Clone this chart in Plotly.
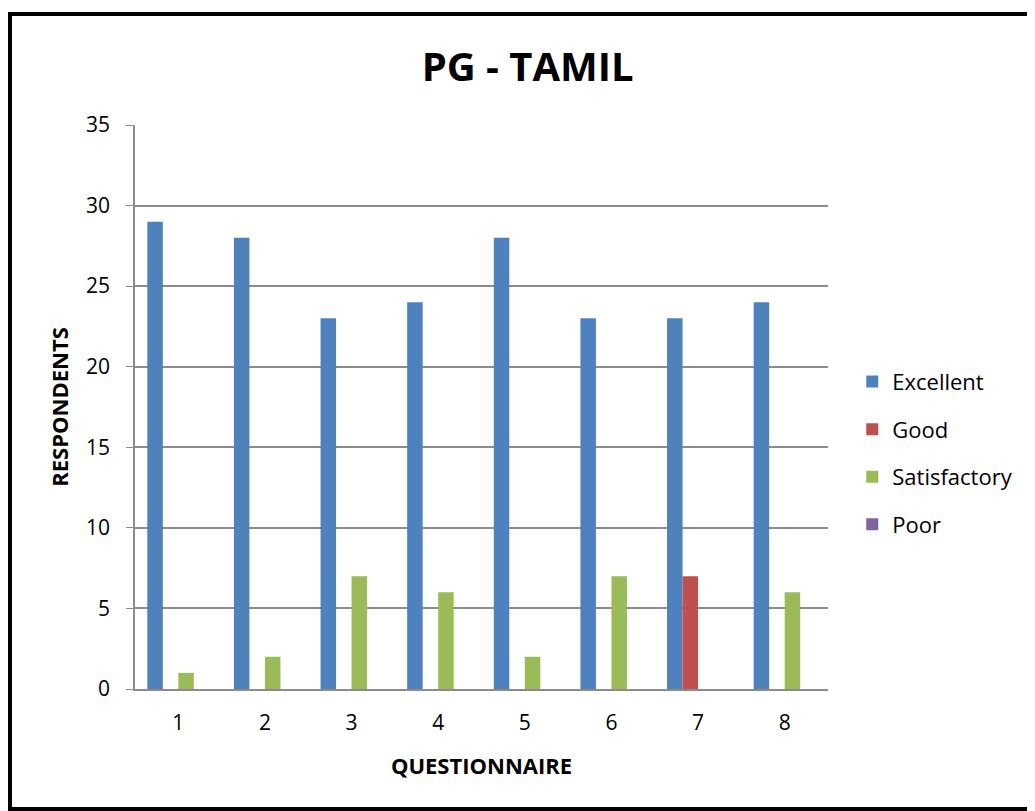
import plotly.graph_objects as go

questions = ["1", "2", "3", "4", "5", "6", "7", "8"]
excellent = [29, 28, 23, 24, 28, 23, 23, 24]
good = [0, 0, 0, 0, 0, 0, 7, 0]
satisfactory = [1, 2, 7, 6, 2, 7, 0, 6]
poor = [0, 0, 0, 0, 0, 0, 0, 0]

series = [
    ("Excellent", excellent, "#4F81BD"),
    ("Good", good, "#C0504D"),
    ("Satisfactory", satisfactory, "#9BBB59"),
    ("Poor", poor, "#8064A2"),
]

fig = go.Figure()
for name, vals, col in series:
    fig.add_trace(go.Bar(x=questions, y=vals, name=name, marker_color=col,
                         marker_line_width=0, legendgroup=name))

font = "Open Sans"
# page has an 8px body margin, so the figure is a bit smaller than the window
fig.update_layout(
    width=1027, height=803,
    margin=dict(l=127, r=207, t=117, b=122),
    paper_bgcolor="white", plot_bgcolor="white",
    barmode="group", bargap=0.284, bargroupgap=0,
    font=dict(family=font, color="black"),
    title=dict(text="<b>PG - TAMIL</b>", x=0.506, xanchor="center",
               y=0.926, yanchor="middle", font=dict(size=40, family=font)),
    legend=dict(x=1.035, y=0.418, yanchor="middle", xanchor="left",
                font=dict(size=22, family=font), traceorder="grouped",
                tracegroupgap=16, itemwidth=30),
    showlegend=True,
)
fig.update_yaxes(range=[0, 35], dtick=5, showgrid=True, gridcolor="#8C8C8C",
                 gridwidth=1.5, showline=True, linecolor="#8C8C8C", linewidth=1.5,
                 ticks="outside", ticklen=7, tickcolor="#8C8C8C",
                 tickfont=dict(size=21), ticklabelstandoff=12, zeroline=False,
                 title=dict(text="<b>RESPONDENTS</b>", font=dict(size=22), standoff=11))
fig.update_xaxes(showline=True, linecolor="#8C8C8C", linewidth=1.5,
                 tickfont=dict(size=21), ticks="", ticklabelstandoff=14,
                 title=dict(text="<b>QUESTIONNAIRE</b>", font=dict(size=22), standoff=24))

# outer chart border
fig.add_shape(type="rect", xref="paper", yref="paper",
              x0=-0.1804, x1=1.2944, y0=-0.2128, y1=1.1968,
              line=dict(color="black", width=4))

fig.write_html("out.html")
